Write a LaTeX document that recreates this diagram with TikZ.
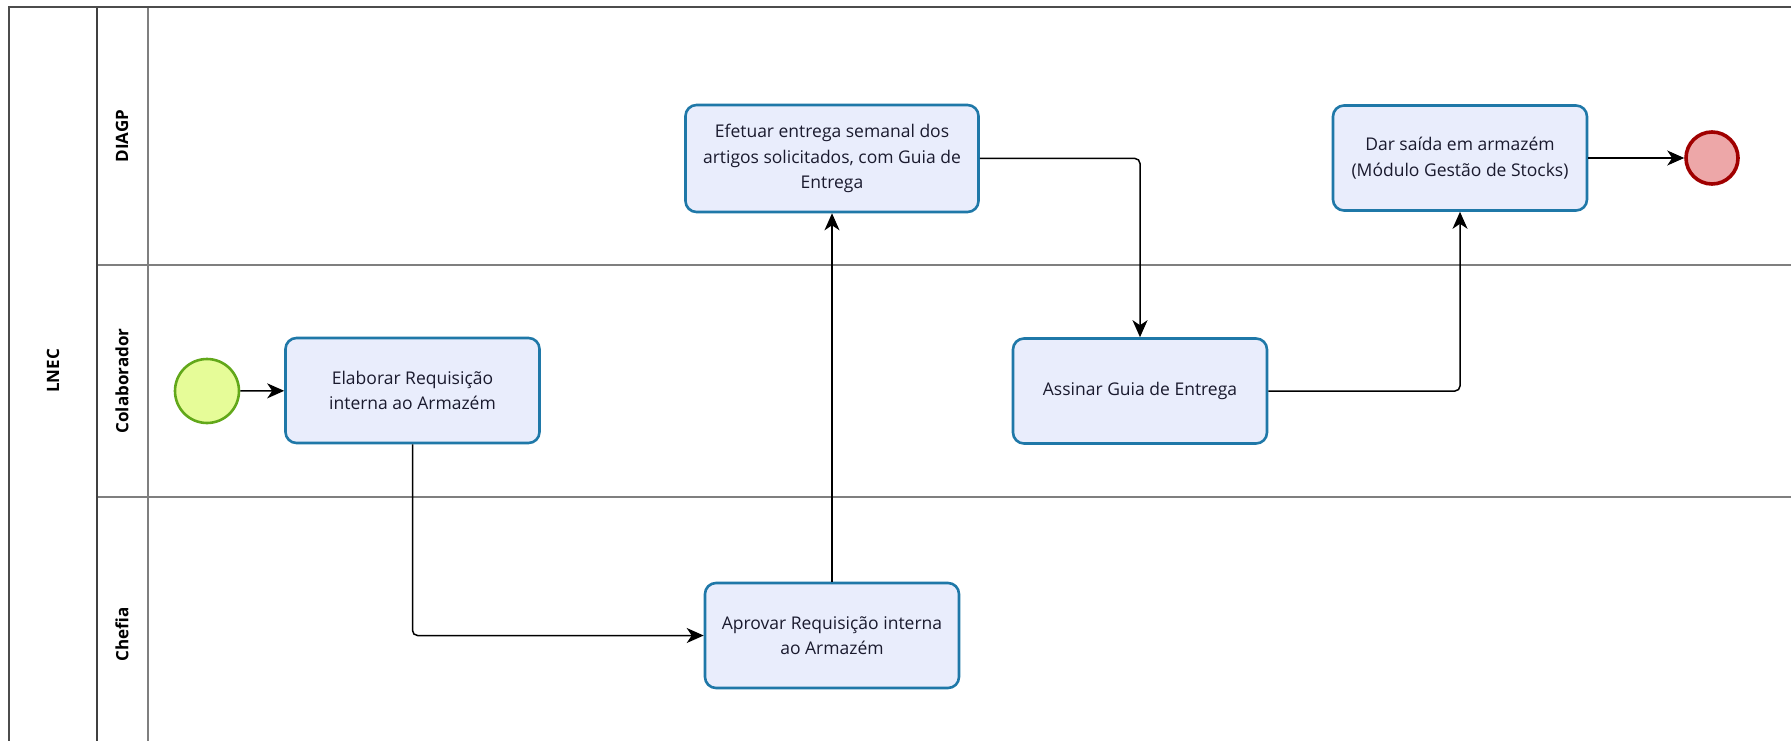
\documentclass[tikz,border=0pt]{standalone}
\usepackage{fontspec}
\setmainfont{Open Sans}
\usetikzlibrary{arrows.meta}
\definecolor{taskfill}{HTML}{E9EDFC}
\definecolor{taskline}{HTML}{1F78A8}
\definecolor{startfill}{HTML}{E6FC98}
\definecolor{startline}{HTML}{62A81A}
\definecolor{endfill}{HTML}{EDA7A8}
\definecolor{endline}{HTML}{A00000}
\definecolor{lanegray}{HTML}{7F7F7F}
\definecolor{txt}{HTML}{1A1A2E}
\tikzset{
  task/.style={draw=taskline, fill=taskfill, line width=2.6pt, rounded corners=11pt,
    minimum width=254pt, minimum height=105pt, inner sep=0pt, align=center,
    text=txt, font=\fontsize{17.5}{25.5}\selectfont},
  startev/.style={circle, draw=startline, fill=startfill, line width=2.6pt, minimum size=64pt, inner sep=0pt},
  endev/.style={circle, draw=endline, fill=endfill, line width=3.6pt, minimum size=52pt, inner sep=0pt},
  flow/.style={draw=black, line width=1.5pt, rounded corners=5pt, -{Stealth[length=17pt,width=15pt,inset=5pt]}},
  lanelabel/.style={rotate=90, font=\fontsize{17}{20}\selectfont\bfseries, text=black},
}
\begin{document}
\begin{tikzpicture}[x=1pt,y=-1pt]
\useasboundingbox (0,0) rectangle (1791,741);
\fill[white] (0,0) rectangle (1791,741);

% pool and lanes
\draw[lanegray, line width=2pt] (97,265) -- (1791,265);
\draw[lanegray, line width=2pt] (97,497) -- (1791,497);
\draw[lanegray, line width=1.5pt] (148,7) -- (148,741);
\draw[black!75, line width=1.8pt] (97,7) -- (97,741);
\draw[black!70, line width=1.8pt] (9,741) -- (9,7) -- (1791,7);

\node[lanelabel] (pool) at (53,371) {LNEC};
\node[lanelabel] (lane1) at (122,136) {DIAGP};
\node[lanelabel] (lane2) at (122,381) {Colaborador};
\node[lanelabel] (lane3) at (122,634) {Chefia};

% events and tasks
\node[startev] (start) at (207,391) {};
\node[task] (elab) at (412.5,390.5) {Elaborar Requisição\\interna ao Armazém};
\node[task] (aprov) at (832,635.5) {Aprovar Requisição interna\\ao Armazém};
\node[task, minimum width=293pt, minimum height=107pt] (efet) at (832,158.5)
  {Efetuar entrega semanal dos\\artigos solicitados, com Guia de\\Entrega};
\node[task] (assin) at (1140,391) {Assinar Guia de Entrega};
\node[task] (dar) at (1460,158) {Dar saída em armazém\\(Módulo Gestão de Stocks)};
\node[endev] (end) at (1712,158) {};

% sequence flows
\draw[flow] (start) -- (elab);
\draw[flow] (elab.south) |- (aprov.west);
\draw[flow] (aprov.north) -- (efet.south);
\draw[flow] (efet.east) -| (assin.north);
\draw[flow] (assin.east) -| (dar.south);
\draw[flow] (dar) -- (end);
\end{tikzpicture}
\end{document}
